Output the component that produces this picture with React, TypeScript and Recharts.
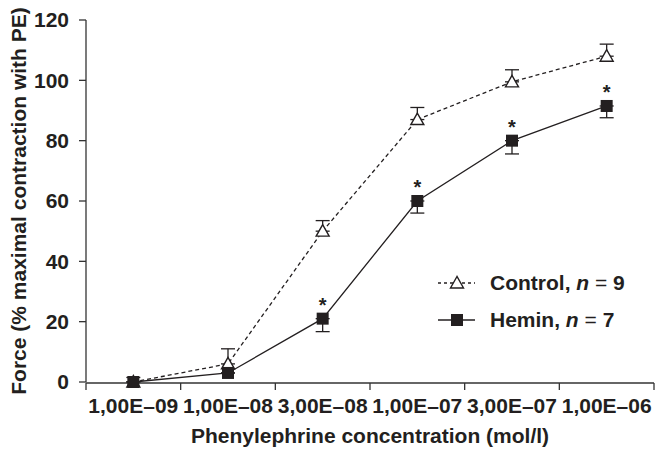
import { ErrorBar, LabelList, Line, LineChart, XAxis, YAxis } from "recharts";

const categories = ["1,00E–09", "1,00E–08", "3,00E–08", "1,00E–07", "3,00E–07", "1,00E–06"];
const control = [0, 6, 50, 87, 99.5, 108];
const controlErr = [1.5, 5, 3.5, 4, 4, 4];
const hemin = [0, 3, 21, 60, 80, 91.5];
const heminErr = [0, 0, 4.3, 4, 4.4, 3.9];
const significant = ["", "", "*", "*", "*", "*"];
const yTicks = [0, 20, 40, 60, 80, 100, 120];
const boundaryTicks = [0, 1, 2, 3, 4, 5, 6];

const INK = "#231f20";
const AXIS = "#333";
const FONT = '"Liberation Sans", Arial, sans-serif';

const data = categories.map((c, i) => ({
  conc: c,
  control: control[i],
  controlErr: [0, controlErr[i]],
  hemin: hemin[i],
  heminErr: [heminErr[i], 0],
  sig: significant[i],
}));

// open triangle marker
const Triangle = ({ cx, cy }: any) => (
  <polygon
    points={`${cx},${cy - 6.5} ${cx - 6.5},${cy + 5} ${cx + 6.5},${cy + 5}`}
    fill="#fff"
    stroke={INK}
    strokeWidth={1.4}
  />
);

const Square = ({ cx, cy }: any) => (
  <rect x={cx - 6} y={cy - 6} width={12} height={12} fill={INK} />
);

const Star = ({ x, y, value }: any) =>
  value ? (
    <text x={x} y={y - 7} textAnchor="middle" fontSize={20} fontWeight="bold" fontFamily={FONT} fill={INK}>
      {value}
    </text>
  ) : null;

// boundary axis: only tick marks, no labels
const NoLabel = () => <g />;

function LegendRow({ dashed, label, n }: { dashed: boolean; label: string; n: number }) {
  return (
    <div style={{ display: "flex", alignItems: "center", height: 37 }}>
      <svg width={40} height={20} style={{ marginRight: 14 }}>
        <line x1={2} y1={10} x2={39} y2={10} stroke={INK} strokeWidth={1.3} strokeDasharray={dashed ? "3 3" : undefined} />
        {dashed ? <Triangle cx={21} cy={10} /> : <Square cx={21} cy={10} />}
      </svg>
      <span style={{ fontFamily: FONT, fontWeight: "bold", fontSize: 21, color: INK }}>
        {label}, <i>n</i>
        <span style={{ fontWeight: 400 }}> = </span>
        {n}
      </span>
    </div>
  );
}

export default function App() {
  return (
    <div style={{ position: "absolute", left: 0, top: 0, width: 655, height: 449, background: "#fff" }}>
      <LineChart width={655} height={449} data={data} margin={{ top: 20, right: 1, bottom: 0, left: 0 }}>
        <XAxis
          xAxisId="bounds"
          type="number"
          dataKey={() => 0}
          domain={[0, 6]}
          ticks={boundaryTicks}
          interval={0}
          height={66}
          tick={NoLabel}
          tickSize={7}
          stroke={AXIS}
          strokeWidth={1.3}
          allowDataOverflow
          label={{
            value: "Phenylephrine concentration (mol/l)",
            position: "insideBottom",
            offset: 6,
            style: { fontSize: 21, fontWeight: "bold", fontFamily: FONT, fill: INK },
          }}
        />
        <XAxis
          dataKey="conc"
          scale="band"
          height={1}
          axisLine={false}
          tickLine={false}
          interval={0}
          tickMargin={10}
          tick={{ fontSize: 21, fontWeight: "bold", fontFamily: FONT, fill: INK }}
        />
        <YAxis
          domain={[0, 120]}
          ticks={yTicks}
          width={86}
          tickSize={7}
          tickMargin={10}
          stroke={AXIS}
          strokeWidth={1.3}
          tick={{ fontSize: 21, fontWeight: "bold", fontFamily: FONT, fill: INK }}
          label={{
            value: "Force (% maximal contraction with PE)",
            angle: -90,
            position: "insideLeft",
            offset: 19,
            style: { textAnchor: "middle", fontSize: 21, fontWeight: "bold", fontFamily: FONT, fill: INK },
          }}
        />
        <Line
          dataKey="control"
          stroke={INK}
          strokeWidth={1.3}
          strokeDasharray="4 3"
          dot={<Triangle />}
          isAnimationActive={false}
        >
          <ErrorBar dataKey="controlErr" width={7} stroke={INK} strokeWidth={1.3} direction="y" isAnimationActive={false} />
        </Line>
        <Line dataKey="hemin" stroke={INK} strokeWidth={1.3} dot={<Square />} isAnimationActive={false}>
          <ErrorBar dataKey="heminErr" width={7} stroke={INK} strokeWidth={1.3} direction="y" isAnimationActive={false} />
          <LabelList dataKey="sig" content={<Star />} />
        </Line>
      </LineChart>
      <div style={{ position: "absolute", left: 436, top: 264 }}>
        <LegendRow dashed label="Control" n={9} />
        <LegendRow dashed={false} label="Hemin" n={7} />
      </div>
    </div>
  );
}
